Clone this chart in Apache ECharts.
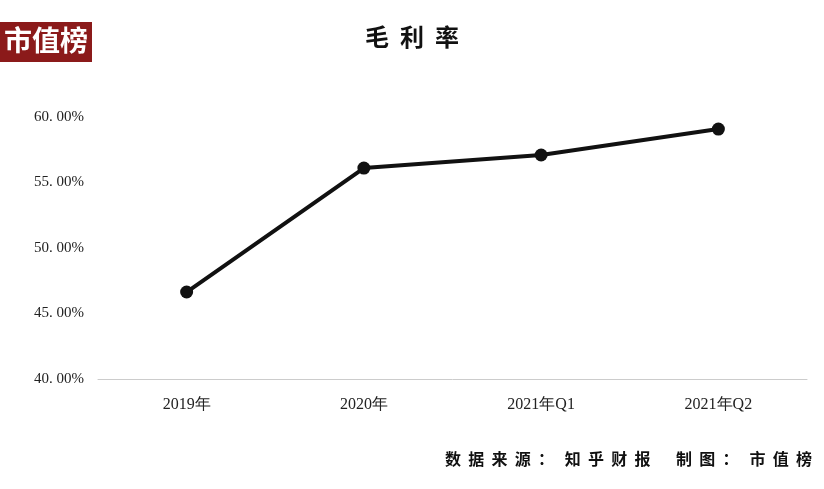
<!DOCTYPE html>
<html><head><meta charset="utf-8">
<script src="https://cdn.jsdelivr.net/npm/echarts@6/dist/echarts.min.js"></script>
<style>html,body{margin:0;padding:0;background:#fff}#c{width:824px;height:489px}</style>
</head><body><div id="c"></div>
<script>
const categories = ['2019年','2020年','2021年Q1','2021年Q2'];
const grossMargin = [46.64, 56.1, 57.1, 59.08];
const yTicks = [40, 45, 50, 55, 60];
const chart = echarts.init(document.getElementById('c'));
chart.setOption({
  animation:false,
  graphic:[
    {type:'rect',left:0,top:22,shape:{width:92,height:40},style:{fill:'#8b1a1a'}},
    {type:'text',left:4,top:26,style:{text:'市值榜',fill:'#fff',font:'bold 28px "Noto Sans CJK SC"'}},
    {type:'text',right:12,top:451,style:{text:'数  据  来  源  ：   知  乎  财  报       制  图  ：   市  值  榜',fill:'#111',font:'bold 16px "Noto Sans CJK SC"'}},
    {type:'text',left:'center',top:25,style:{text:'毛  利  率',fill:'#111',font:'bold 24px "Noto Sans CJK SC"'}}
  ],
  grid:{left:98,right:17,top:117,bottom:110},
  xAxis:{type:'category',data:categories,boundaryGap:true,
    axisLine:{lineStyle:{color:'#ccc'}},axisTick:{show:false},
    axisLabel:{color:'#222',fontSize:16,fontFamily:'Liberation Serif',margin:18}},
  yAxis:{type:'value',min:yTicks[0],max:yTicks[yTicks.length-1],interval:5,
    splitLine:{show:false},axisLine:{show:false},axisTick:{show:false},
    axisLabel:{color:'#222',fontSize:15,fontFamily:'Liberation Serif',margin:14,formatter:v=>v.toFixed(2).replace('.','. ')+'%'}},
  series:[{type:'line',data:grossMargin,symbol:'circle',symbolSize:13,
    lineStyle:{color:'#111',width:4},itemStyle:{color:'#111'}}]
});
</script></body></html>
